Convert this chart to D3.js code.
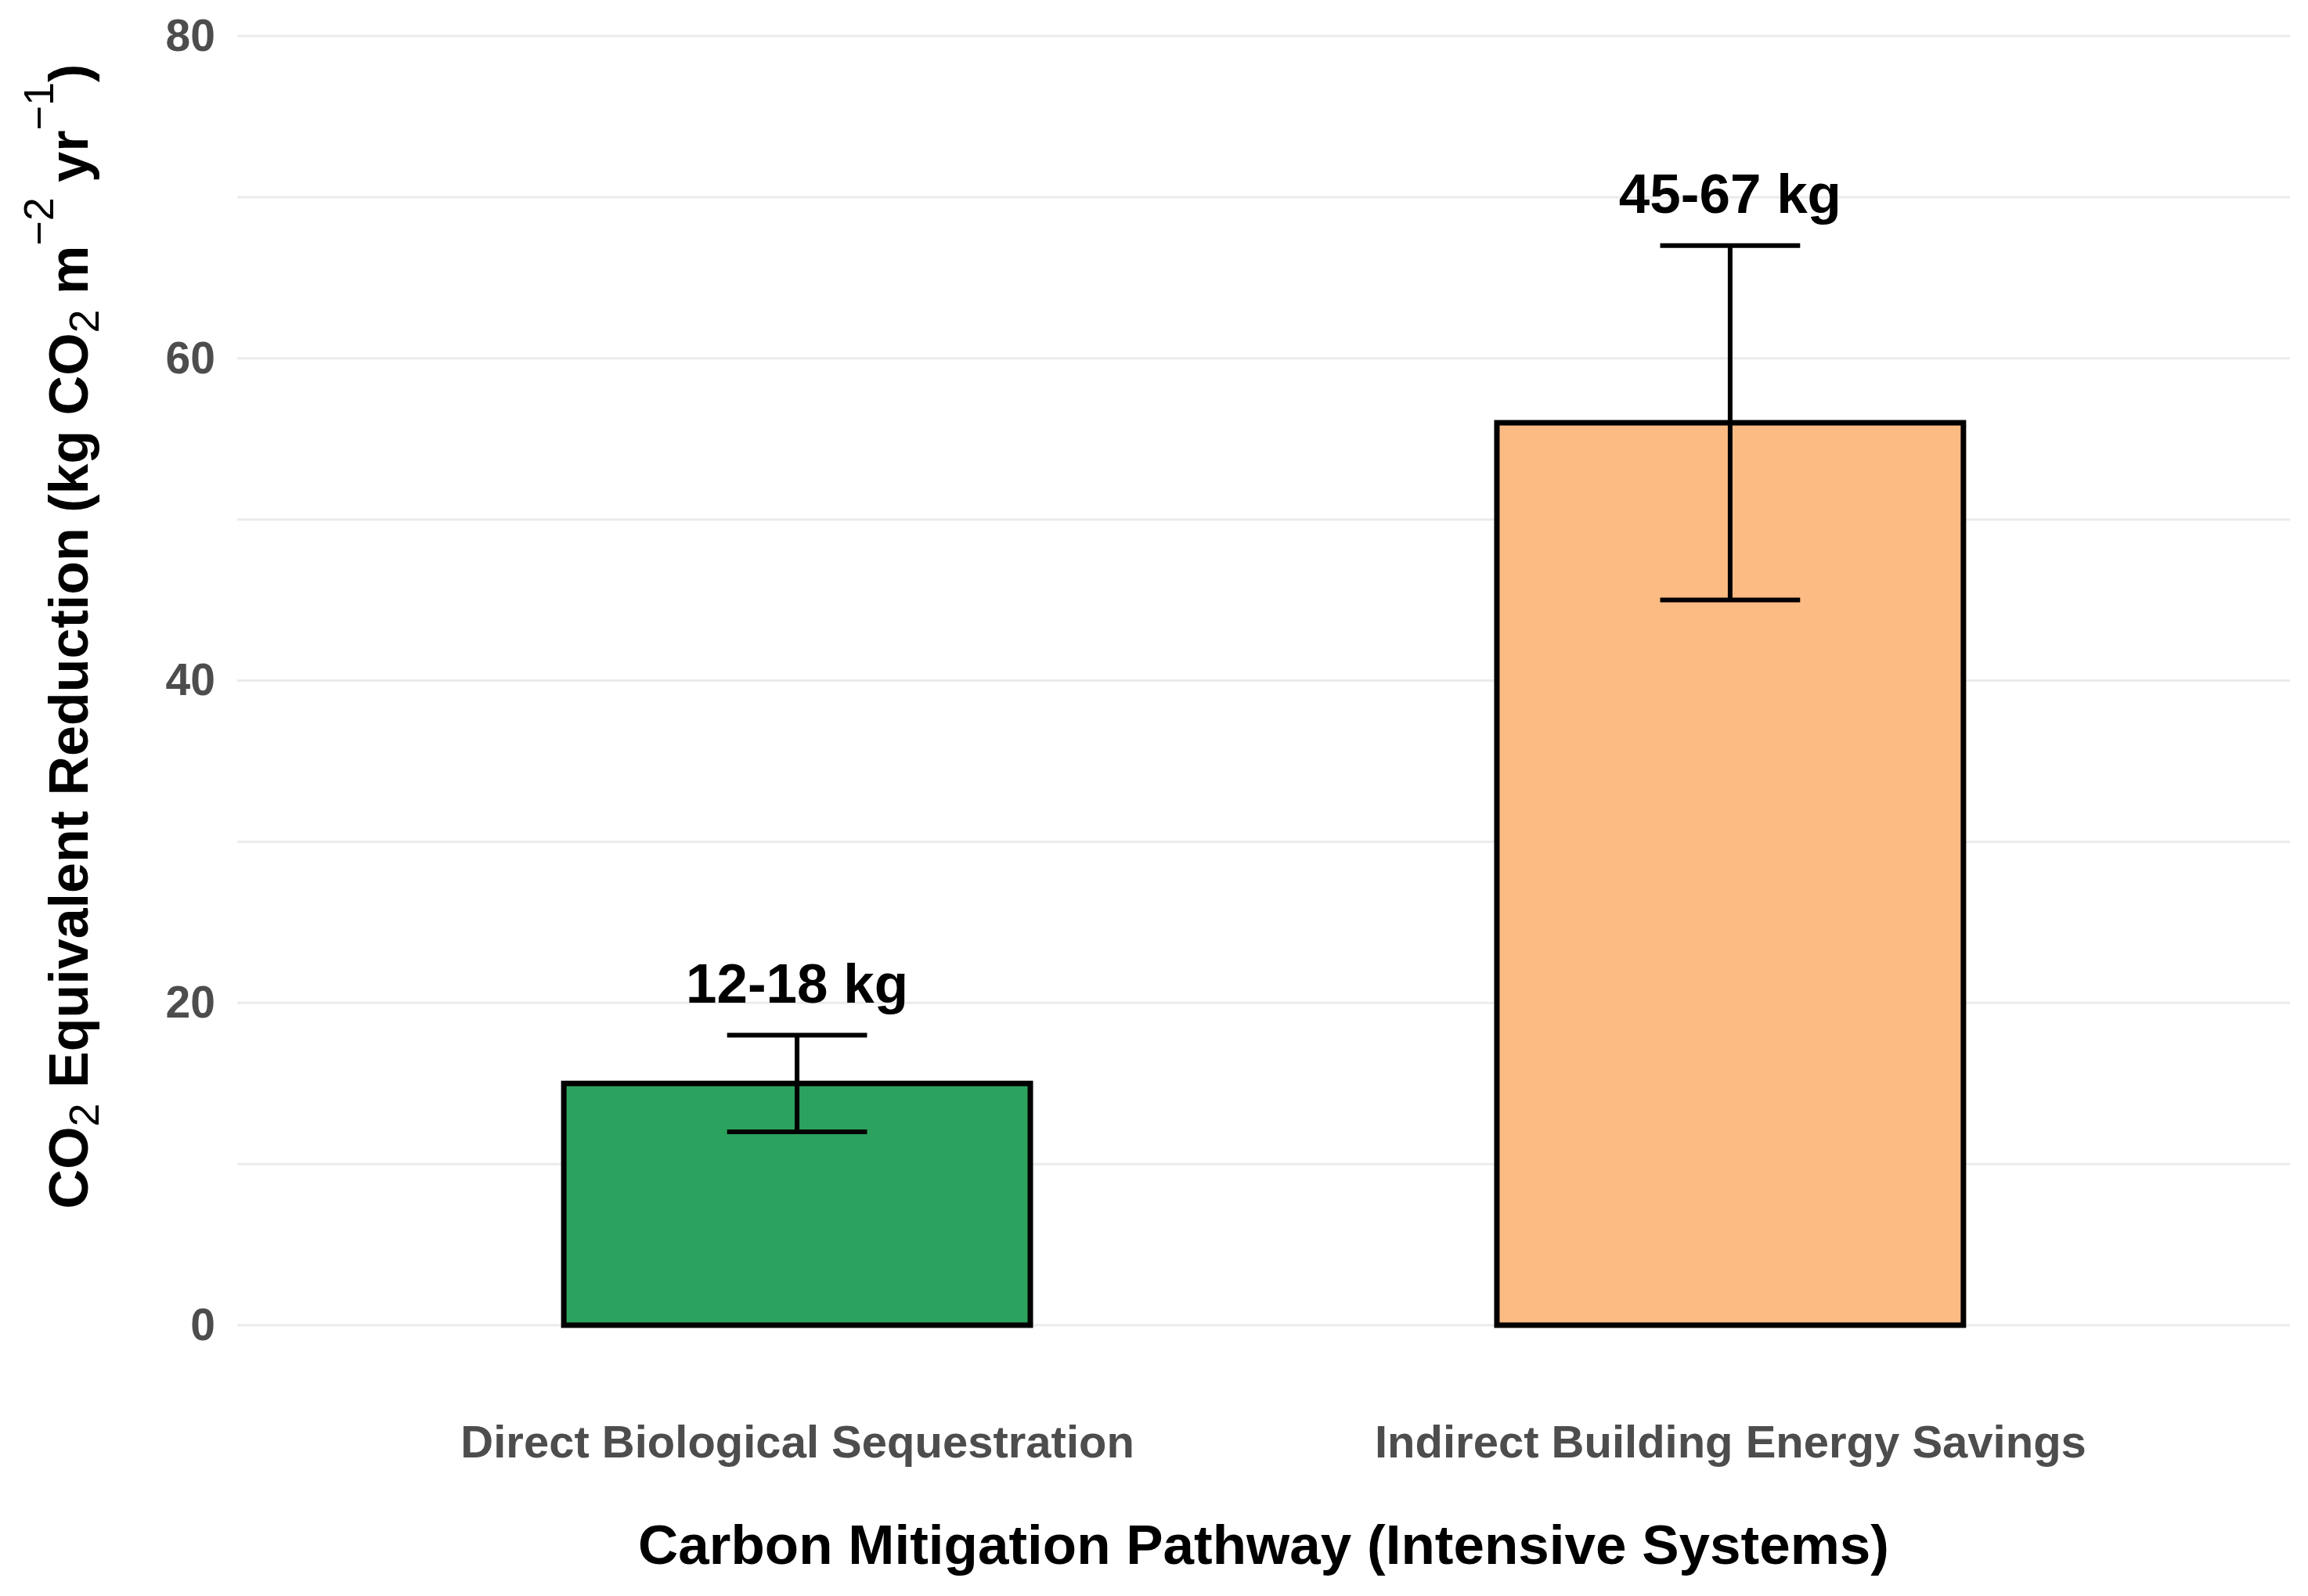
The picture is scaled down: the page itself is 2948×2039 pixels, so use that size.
<!DOCTYPE html>
<html lang="en">
<head>
    <meta charset="utf-8">
    <title>Carbon mitigation</title>
    <script src="https://d3js.org/d3.v7.min.js"></script>
    <style>
        body { margin: 0; background: #fff; }
        svg text { font-family: "Liberation Sans", Arial, sans-serif; }
    </style>
</head>
<body>
    <div id="chart"></div>
    <script>
        // values
        const categories = ["Direct Biological Sequestration", "Indirect Building Energy Savings"];
        const midValues = [15, 56];
        const lowValues = [12, 45];
        const highValues = [18, 67];
        const rangeLabels = ["12-18 kg", "45-67 kg"];
        const barColors = ["#2ca25f", "#fdbb84"];
        const yTicks = [0, 20, 40, 60, 80];
        const yMinorTicks = [10, 30, 50, 70];

        const width = 2948;
        const height = 2039;
        const panel = {left: 303, right: 2925, top: 46, bottom: 1693};

        const data = categories.map((c, i) => ({
            name: c, mid: midValues[i], low: lowValues[i], high: highValues[i],
            label: rangeLabels[i], color: barColors[i]
        }));

        const svg = d3.select("#chart")
            .append("svg")
            .attr("width", width)
            .attr("height", height);

        const x = d3.scalePoint()
            .domain(categories)
            .range([panel.left, panel.right])
            .padding(0.6);
        const step = x.step();
        const barW = step * 0.5;
        const capW = step * 0.15;

        const y = d3.scaleLinear()
            .domain([0, 80])
            .range([panel.bottom, panel.top]);

        // grid
        svg.append("g")
            .selectAll("line")
            .data(yMinorTicks.concat(yTicks))
            .enter()
            .append("line")
                .attr("x1", panel.left)
                .attr("x2", panel.right)
                .attr("y1", d => y(d))
                .attr("y2", d => y(d))
                .attr("stroke", "#ebebeb")
                .attr("stroke-width", 3);

        // y axis labels
        const yAxis = d3.axisLeft(y).tickValues(yTicks).tickSize(0).tickPadding(28);
        const gy = svg.append("g")
            .attr("transform", "translate(" + panel.left + ",0)")
            .call(yAxis);
        gy.select(".domain").remove();
        gy.selectAll("text")
            .attr("font-family", "'Liberation Sans', Arial, sans-serif")
            .attr("font-size", 57)
            .attr("font-weight", "bold")
            .attr("fill", "#4d4d4d");

        // x axis labels
        const xAxis = d3.axisBottom(x).tickSize(0).tickPadding(0);
        const gx = svg.append("g")
            .attr("transform", "translate(0," + panel.bottom + ")")
            .call(xAxis);
        gx.select(".domain").remove();
        gx.selectAll("text")
            .attr("dy", null)
            .attr("y", 169)
            .attr("font-family", "'Liberation Sans', Arial, sans-serif")
            .attr("font-size", 58)
            .attr("font-weight", "bold")
            .attr("fill", "#4d4d4d");

        // bars
        svg.append("g")
            .selectAll("rect")
            .data(data)
            .enter()
            .append("rect")
                .attr("x", d => x(d.name) - barW / 2)
                .attr("y", d => y(d.mid))
                .attr("width", barW)
                .attr("height", d => y(0) - y(d.mid))
                .attr("fill", d => d.color)
                .attr("stroke", "#000")
                .attr("stroke-width", 7);

        // error bars
        const err = svg.append("g")
            .attr("stroke", "#000")
            .attr("stroke-width", 6);
        data.forEach(d => {
            const cx = x(d.name);
            err.append("line")
                .attr("x1", cx).attr("x2", cx)
                .attr("y1", y(d.low)).attr("y2", y(d.high));
            [d.low, d.high].forEach(v => {
                err.append("line")
                    .attr("x1", cx - capW / 2).attr("x2", cx + capW / 2)
                    .attr("y1", y(v)).attr("y2", y(v));
            });
        });

        // range labels
        svg.append("g")
            .selectAll("text")
            .data(data)
            .enter()
            .append("text")
                .attr("x", d => x(d.name))
                .attr("y", d => y(d.high + 2))
                .attr("text-anchor", "middle")
                .attr("font-size", 71)
                .attr("font-weight", "bold")
                .attr("fill", "#000")
                .text(d => d.label);

        // x title
        svg.append("text")
            .attr("x", (panel.left + panel.right) / 2)
            .attr("y", 1998)
            .attr("text-anchor", "middle")
            .attr("font-size", 71)
            .attr("font-weight", "bold")
            .attr("fill", "#000")
            .text("Carbon Mitigation Pathway (Intensive Systems)");

        // y title with sub/superscripts
        const yt = svg.append("text")
            .attr("transform", "translate(112,813) rotate(-90)")
            .attr("text-anchor", "middle")
            .attr("font-size", 70)
            .attr("font-weight", "bold")
            .attr("fill", "#000");
        const parts = [
            ["CO", 0, false], ["2", 14, true], [" Equivalent Reduction (kg CO", -14, false],
            ["2", 14, true], [" m", -14, false], ["\u22122", -44, true], [" yr", 44, false],
            ["\u22121", -44, true], [")", 44, false]
        ];
        parts.forEach(p => {
            const t = yt.append("tspan").attr("dy", p[1]).text(p[0]);
            if (p[2]) t.attr("font-size", 54).attr("font-weight", "normal");
        });
    </script>
</body>
</html>
